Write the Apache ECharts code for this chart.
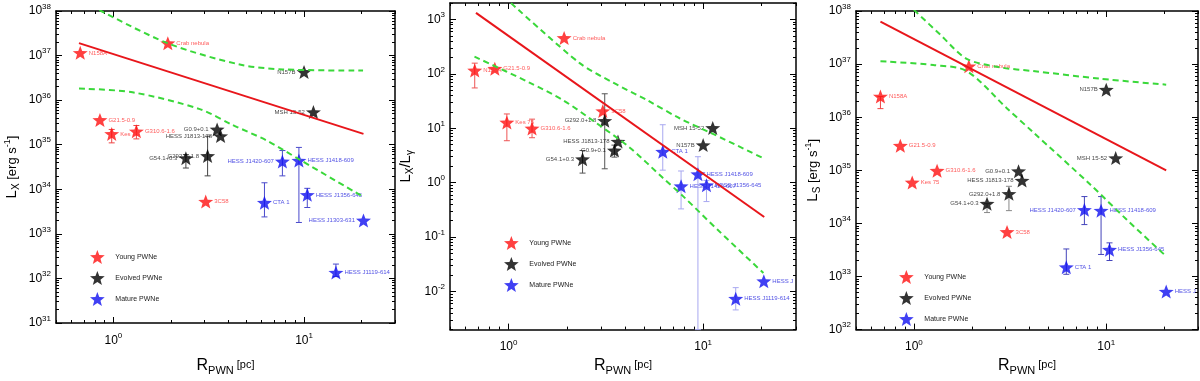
<!DOCTYPE html>
<html><head><meta charset="utf-8">
<script src="https://cdn.jsdelivr.net/npm/echarts@6/dist/echarts.min.js"></script>
<style>html,body{margin:0;padding:0;background:#fff}#c{width:1200px;height:381px}</style>
</head><body><div id="c"></div>
<script>
// ---------------- data ----------------
const sources = ['N158A','Crab nebula','G21.5-0.9','Kes 75','G310.6-1.6','3C58',
  'G0.9+0.1','HESS J1813-178','G54.1+0.3','G292.0+1.8','N157B','MSH 15-52',
  'HESS J1420-607','HESS J1418-609','CTA 1','HESS J1356-645','HESS J1303-631','HESS J1119-614'];
const classes = ['Young PWNe','Evolved PWNe','Mature PWNe'];
const sourceClass = [0,0,0,0,0,0, 1,1,1,1,1,1, 2,2,2,2,2,2];
const radius = [0.67,1.93,0.85,0.98,1.32,3.05, 3.5,3.65,2.4,3.12,10,11.2, 7.7,9.4,6.2,10.4,20.5,14.7];

// panel 1: L_X
const lumX   = [1.15e37,1.9e37,3.6e35,1.75e35,2.0e35,5.3e33, 2.2e35,1.56e35,5.0e34,5.6e34,4.3e36,5.4e35, 4.2e34,4.4e34,5.0e33,7.5e33,2.0e33,1.35e32];
const lumXlo = [null,null,null,1.1e35,1.35e35,null, null,null,3e34,2e34,null,null, 2e34,1.8e33,2.4e33,3.9e33,null,1.1e32];
const lumXhi = [null,null,null,2.2e35,2.7e35,null, null,null,6e34,1.55e35,null,null, 7.4e34,8.7e34,1.4e34,1.05e34,null,2.1e32];
const sideX  = ['right','right','right','right','right','right','left','left','left','left','left','left','left','right','right','right','left','right'];
const fitXR = [0.66, 20.5], fitXV = [1.9e37, 1.75e35];
const upXR = [0.844,1.92,4.6,7.75,20.4], upXV = [1.05e38,1.9e37,6.3e36,4.9e36,4.6e36];
const loXR = [0.66,1.26,2.84,4.23,6.4,9.5,20.4], loXV = [1.82e36,1.5e36,6.3e35,2.76e35,1.23e35,4.6e34,6.8e33];

// panel 2: L_X / L_gamma
const ratio   = [115,455,124,12.8,9.9,20.7, 3.9,5.7,2.7,13.7,4.9,10.1, 0.86,1.43,3.7,0.9,0.0155,0.0074];
const ratioLo = [55,null,null,5.9,6.7,null, 2.95,null,1.5,1.8,null,null, 0.33,0.002,1.7,0.45,null,0.0046];
const ratioHi = [157,null,null,18.3,14.7,null, 4.9,null,3.9,43,null,null, 1.64,3.0,11.6,1.1,null,0.0118];
const sideR   = ['right','right','right','right','right','right','left','left','left','left','left','left','right','right','right','right','right','right'];
const fitRR = [0.68, 20.6], fitRV = [1320, 0.234];
const upRR = [1.03,2.32,3.44,5.14,7.6,11.3,20.6], upRV = [1990,157,69,33,15.1,7.8,2.76];
const loRR = [0.668,1.28,1.90,2.84,4.2,6.2,7.9,11.8,20.4], loRV = [207,69,33,12.3,4.4,1.23,0.56,0.139,0.0219];

// panel 3: L_S
const lumS   = [2.45e36,9.1e36,2.9e35,5.9e34,9.8e34,6.9e33, 9.6e34,6.4e34,2.35e34,3.6e34,3.3e36,1.7e35, 1.8e34,1.74e34,1.5e33,3.2e33,5.2e32,null];
const lumSlo = [1.45e36,null,null,null,null,null, null,null,1.6e34,1.74e34,null,null, 9.5e33,2.6e33,1.1e33,2.0e33,null,null];
const lumShi = [null,null,null,null,null,null, null,null,null,5e34,null,null, 3.2e34,3.2e34,3.3e33,4.3e33,null,null];
const sideS  = ['right','right','right','right','right','right','left','left','left','left','left','left','left','right','right','right','right','right'];
const fitSR = [0.67, 20.5], fitSV = [6.3e37, 1.0e35];
const upSR = [1.0,1.37,1.88,2.8,4.17,9.3,20.5], upSV = [1.05e38,3.6e37,1.26e37,8.7e36,7.4e36,5.3e36,4.1e36];
const loSR = [0.67,1.26,1.88,3.04,4.17,8.26,12.8,20.5], loSV = [1.13e37,9.6e36,7.4e36,1.48e36,5.2e35,5.4e34,1.17e34,2.4e33];

// tick labels
const xMajor = [1, 10];
const yMajorX = [1e31,1e32,1e33,1e34,1e35,1e36,1e37,1e38];
const yMajorR = [1e-2,1e-1,1,10,100,1000];
const yMajorS = [1e32,1e33,1e34,1e35,1e36,1e37,1e38];

// ---------------- styling / building ----------------
const FONT = 'Liberation Sans';
const STAR = 'path://M50,0L62.3,33L97.6,34.5L70,56.5L79.4,90.5L50,71L20.6,90.5L30,56.5L2.4,34.5L37.7,33Z';
const classColor = ['#ff1010','#000000','#1010f0'];
const labelColor = ['#ff3030','#111111','#2424dd'];
const RED = '#e8161b', GREEN = '#3ad83a';

function minorsOf(majors){
  const out = [];
  const lo = majors[0] / 10, hi = majors[majors.length-1] * 10;
  for (let d = lo; d <= hi * 1.0001; d *= 10) for (let k = 2; k <= 9; k++) out.push(+(k * d).toPrecision(6));
  return out;
}
function labelFmt(v){ const e = Math.round(Math.log10(v)); return '{b|10}{s|' + e + '}'; }
const tickRich = { b:{fontSize:12, fontFamily:FONT, color:'#000'}, s:{fontSize:8, fontFamily:FONT, color:'#000', padding:[0,0,9,0]} };
const line = {color:'#000', width:1.5};

const panels = [
  {grid:{left:56,top:11,width:339,height:316}, yMin:1e31, yMax:1e38, yMajor:yMajorX, v:lumX, lo:lumXlo, hi:lumXhi, side:sideX,
   fit:[fitXR,fitXV], up:[upXR,upXV], dn:[loXR,loXV], xGap:33, yGap:35,
   yName:'{l|L}{sub|X}{t| [erg s}{sup|-1}{t|]}', legend:{left:85,top:245},
   errColor:['#ee4444','#444444','#4a4acc']},
  {grid:{left:450,top:3,width:346,height:336}, yMin:0.002, yMax:2000, yMajor:yMajorR, v:ratio, lo:ratioLo, hi:ratioHi, side:sideR,
   fit:[fitRR,fitRV], up:[upRR,upRV], dn:[loRR,loRV], xGap:21, yGap:35,
   yName:'{l|L}{sub|X}{l|/L}{sub|γ}', legend:{left:499,top:231},
   errColor:['#ee5555','#555555','#a8a8f0']},
  {grid:{left:856,top:11,width:342,height:328}, yMin:1e32, yMax:1e38, yMajor:yMajorS, v:lumS, lo:lumSlo, hi:lumShi, side:sideS,
   fit:[fitSR,fitSV], up:[upSR,upSV], dn:[loSR,loSV], xGap:21, yGap:34,
   yName:'{l|L}{sub|S}{t| [erg s}{sup|-1}{t|]}', legend:{left:894,top:265},
   errColor:['#ee4444','#888888','#4444bb']}
];

const option = {animation:false, grid:[], xAxis:[], yAxis:[], series:[], legend:[]};
const xMinor = minorsOf(xMajor);

panels.forEach((P, p) => {
  option.grid.push(Object.assign({containLabel:false}, P.grid));
  const yMinor = minorsOf(P.yMajor);
  const base = {gridIndex:p, type:'log', logBase:10, splitLine:{show:false}};
  const xb = Object.assign({}, base, {min:0.5, max:30});
  const yb = Object.assign({}, base, {min:P.yMin, max:P.yMax});
  // x axes
  option.xAxis.push(Object.assign({}, xb, {position:'bottom', axisLine:{show:true, lineStyle:line},
    axisTick:{show:true, inside:true, length:6, customValues:xMajor, lineStyle:{color:'#000', width:1}},
    axisLabel:{show:true, customValues:xMajor, formatter:labelFmt, rich:tickRich, margin:9},
    name:'{l|R}{sub|PWN}{t| [pc]}', nameLocation:'middle', nameGap:P.xGap,
    nameTextStyle:{fontFamily:FONT, color:'#000', rich:{
      l:{fontSize:16, fontFamily:FONT, color:'#000'},
      sub:{fontSize:11, fontFamily:FONT, color:'#000', padding:[9,0,0,0]},
      t:{fontSize:11, fontFamily:FONT, color:'#000', padding:[0,0,3,0]}}}}));
  option.xAxis.push(Object.assign({}, xb, {position:'bottom', axisLine:{show:false},
    axisTick:{show:true, inside:true, length:3, customValues:xMinor, lineStyle:{color:'#000', width:1}}, axisLabel:{show:false}}));
  option.xAxis.push(Object.assign({}, xb, {position:'top', axisLine:{show:true, lineStyle:line},
    axisTick:{show:true, inside:true, length:6, customValues:xMajor, lineStyle:{color:'#000', width:1}}, axisLabel:{show:false}}));
  option.xAxis.push(Object.assign({}, xb, {position:'top', axisLine:{show:false},
    axisTick:{show:true, inside:true, length:3, customValues:xMinor, lineStyle:{color:'#000', width:1}}, axisLabel:{show:false}}));
  // y axes
  option.yAxis.push(Object.assign({}, yb, {position:'left', axisLine:{show:true, lineStyle:line},
    axisTick:{show:true, inside:true, length:6, customValues:P.yMajor, lineStyle:{color:'#000', width:1}},
    axisLabel:{show:true, customValues:P.yMajor, formatter:labelFmt, rich:tickRich, margin:5},
    name:P.yName, nameLocation:'middle', nameGap:P.yGap, nameRotate:90,
    nameTextStyle:{fontFamily:FONT, color:'#000', rich:{
      l:{fontSize:15, fontFamily:FONT, color:'#000'},
      sub:{fontSize:10, fontFamily:FONT, color:'#000', padding:[8,0,0,0]},
      t:{fontSize:13, fontFamily:FONT, color:'#000'},
      sup:{fontSize:9, fontFamily:FONT, color:'#000', padding:[0,0,9,0]}}}}));
  option.yAxis.push(Object.assign({}, yb, {position:'left', axisLine:{show:false},
    axisTick:{show:true, inside:true, length:3, customValues:yMinor, lineStyle:{color:'#000', width:1}}, axisLabel:{show:false}}));
  option.yAxis.push(Object.assign({}, yb, {position:'right', axisLine:{show:true, lineStyle:line},
    axisTick:{show:true, inside:true, length:6, customValues:P.yMajor, lineStyle:{color:'#000', width:1}}, axisLabel:{show:false}}));
  option.yAxis.push(Object.assign({}, yb, {position:'right', axisLine:{show:false},
    axisTick:{show:true, inside:true, length:3, customValues:yMinor, lineStyle:{color:'#000', width:1}}, axisLabel:{show:false}}));

  const ax = {xAxisIndex:4*p, yAxisIndex:4*p};

  // error bars
  const errData = [];
  sources.forEach((s, i) => {
    if (P.v[i] == null) return;
    if (P.lo[i] == null && P.hi[i] == null) return;
    errData.push([radius[i], P.v[i], P.lo[i] != null ? P.lo[i] : P.v[i], P.hi[i] != null ? P.hi[i] : P.v[i], sourceClass[i]]);
  });
  const ec = P.errColor;
  option.series.push(Object.assign({type:'custom', z:1, silent:true, data:errData, encode:{x:0, y:1},
    renderItem:function(params, api){
      const x = api.value(0), c = ec[api.value(4)];
      const a = api.coord([x, api.value(3)]), b = api.coord([x, api.value(2)]);
      const st = {stroke:c, lineWidth:1};
      return {type:'group', children:[
        {type:'line', shape:{x1:a[0], y1:a[1], x2:b[0], y2:b[1]}, style:st},
        {type:'line', shape:{x1:a[0]-3, y1:a[1], x2:a[0]+3, y2:a[1]}, style:st},
        {type:'line', shape:{x1:b[0]-3, y1:b[1], x2:b[0]+3, y2:b[1]}, style:st}]};
    }}, ax));

  // stars
  classes.forEach((cn, ci) => {
    const data = [];
    sources.forEach((s, i) => {
      if (sourceClass[i] !== ci || P.v[i] == null) return;
      const item = {name:s, value:[radius[i], P.v[i]], label:{position:P.side[i]}};
      if (s === 'HESS J1303-631' && p > 0) { item.label.width = 24; item.label.overflow = 'truncate'; item.label.ellipsis = ''; }
      data.push(item);
    });
    option.series.push(Object.assign({type:'scatter', name:cn, z:2, symbol:STAR, symbolSize:[15,14],
      itemStyle:{color:classColor[ci]}, data:data,
      label:{show:true, formatter:'{b}', fontSize:6, fontFamily:FONT, color:labelColor[ci], distance:1}}, ax));
  });

  // fit and bands
  const zip = (a, b) => a.map((x, i) => [x, b[i]]);
  option.series.push(Object.assign({type:'line', z:3, silent:true, symbol:'none', data:zip(P.fit[0], P.fit[1]),
    lineStyle:{color:RED, width:2}}, ax));
  [P.up, P.dn].forEach(b => option.series.push(Object.assign({type:'line', z:3, silent:true, symbol:'none',
    smooth:0.3, data:zip(b[0], b[1]),
    lineStyle:{color:GREEN, width:2, type:[6,4]}}, ax)));

  option.legend.push({orient:'vertical', left:P.legend.left, top:P.legend.top, itemWidth:26, itemHeight:14, itemGap:7,
    selectedMode:false, icon:STAR, textStyle:{fontSize:7, fontFamily:FONT, color:'#222'},
    data:classes.map((c, ci) => ({name:c, icon:STAR, itemStyle:{color:classColor[ci]}}))});
});

const chart = echarts.init(document.getElementById('c'), null, {renderer:'canvas'});
chart.setOption(option);
</script></body></html>
